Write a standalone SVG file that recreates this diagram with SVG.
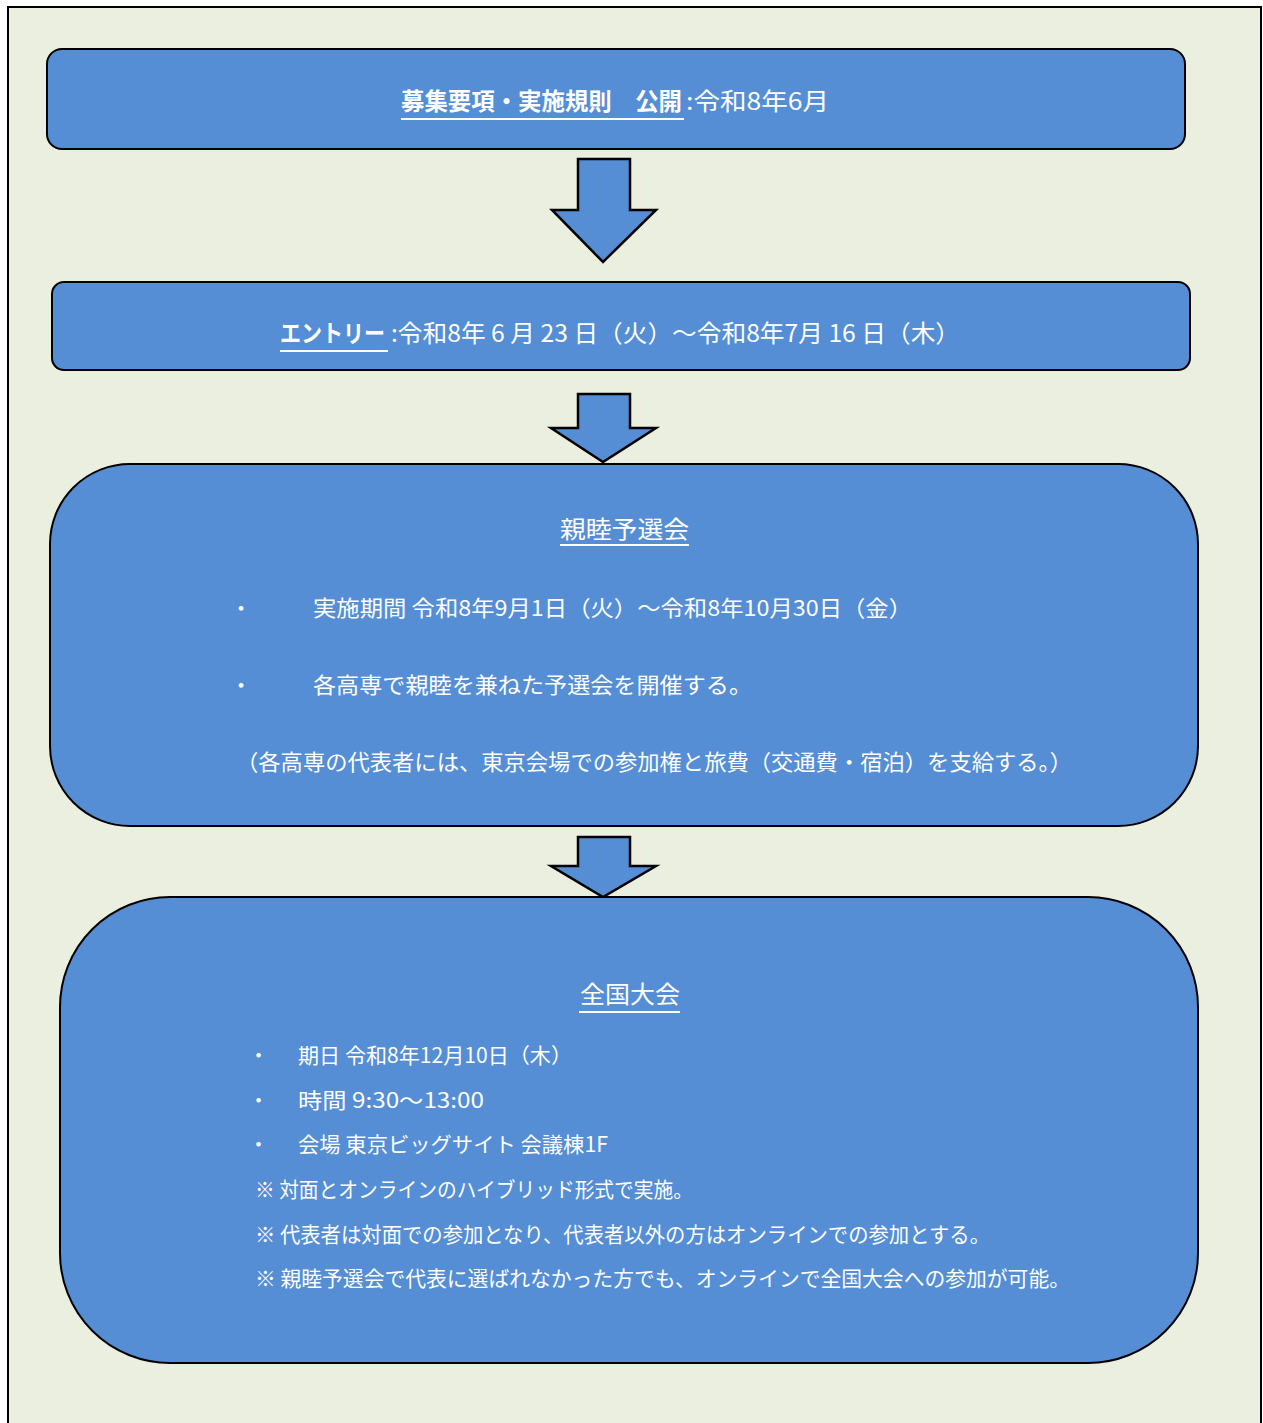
<svg xmlns="http://www.w3.org/2000/svg" width="1263" height="1423" viewBox="0 0 1263 1423">
<style>
.box{fill:#558ED5;stroke:#000;stroke-width:2}
.arr{fill:#558ED5;stroke:#000;stroke-width:2.5;stroke-linejoin:miter}
text{font-family:"Noto Sans CJK JP","Noto Sans",sans-serif;fill:#fff}
.t24{font-size:24px}
.t22{font-size:22px}
.t21{font-size:21px}
.b{font-weight:bold}
.ul{stroke:#fff;stroke-width:2}
</style>
<rect x="8" y="7" width="1253" height="1430" fill="#EBEFDF" stroke="#000" stroke-width="2"/>
<g id="connectors">
<path class="arr" d="M578,159 H630 V210 H656 L603,262 L552,210 H578 Z"/>
<path class="arr" d="M578,394 H630 V428 H656 L603,462 L551,428 H578 Z"/>
<path class="arr" d="M578,837 H630 V866 H656 L603,897 L551,866 H578 Z"/>
</g>
<g id="node1">
<rect class="box" x="47" y="49" width="1138" height="100" rx="15"/>
<text class="t24 b" x="401" y="110" textLength="281" lengthAdjust="spacingAndGlyphs">募集要項・実施規則　公開</text>
<text class="t24" x="686" y="110" textLength="143" lengthAdjust="spacingAndGlyphs">:令和8年6月</text>
<line class="ul" x1="401" y1="119" x2="684" y2="119"/>
</g>
<g id="node2">
<rect class="box" x="52" y="282" width="1138" height="88" rx="12"/>
<text class="t24 b" x="280" y="342" textLength="105" lengthAdjust="spacingAndGlyphs">エントリー</text>
<text class="t24" x="391" y="342" textLength="569" lengthAdjust="spacingAndGlyphs">:令和8年 6 月 23 日（火）～令和8年7月 16 日（木）</text>
<line class="ul" x1="280" y1="351" x2="388" y2="351"/>
</g>
<g id="node3">
<rect class="box" x="50" y="464" width="1148" height="362" rx="80"/>
<text class="t24" x="560" y="538" textLength="129" lengthAdjust="spacingAndGlyphs">親睦予選会</text>
<line class="ul" x1="560" y1="545" x2="689" y2="545"/>
<text class="t22" x="230" y="616">・</text>
<text class="t22" x="313" y="616" textLength="599" lengthAdjust="spacingAndGlyphs">実施期間 令和8年9月1日（火）～令和8年10月30日（金）</text>
<text class="t22" x="230" y="693">・</text>
<text class="t22" x="313" y="693" textLength="439" lengthAdjust="spacingAndGlyphs">各高専で親睦を兼ねた予選会を開催する。</text>
<text class="t22" x="236" y="770" textLength="836" lengthAdjust="spacingAndGlyphs">（各高専の代表者には、東京会場での参加権と旅費（交通費・宿泊）を支給する。）</text>
</g>
<g id="node4">
<rect class="box" x="60" y="897" width="1138" height="466" rx="110"/>
<text class="t24" x="580" y="1003" textLength="100" lengthAdjust="spacingAndGlyphs">全国大会</text>
<line class="ul" x1="579" y1="1012" x2="680" y2="1012"/>
<text class="t21" x="248" y="1063">・</text>
<text class="t21" x="298" y="1063" textLength="274" lengthAdjust="spacingAndGlyphs">期日 令和8年12月10日（木）</text>
<text class="t21" x="248" y="1108">・</text>
<text class="t21" x="298" y="1108" textLength="186" lengthAdjust="spacingAndGlyphs">時間 9:30～13:00</text>
<text class="t21" x="248" y="1152">・</text>
<text class="t21" x="298" y="1152" textLength="310" lengthAdjust="spacingAndGlyphs">会場 東京ビッグサイト 会議棟1F</text>
<text class="t21" x="255" y="1197" textLength="438" lengthAdjust="spacingAndGlyphs">※ 対面とオンラインのハイブリッド形式で実施。</text>
<text class="t21" x="255" y="1242" textLength="735" lengthAdjust="spacingAndGlyphs">※ 代表者は対面での参加となり、代表者以外の方はオンラインでの参加とする。</text>
<text class="t21" x="255" y="1286" textLength="815" lengthAdjust="spacingAndGlyphs">※ 親睦予選会で代表に選ばれなかった方でも、オンラインで全国大会への参加が可能。</text>
</g>
</svg>
